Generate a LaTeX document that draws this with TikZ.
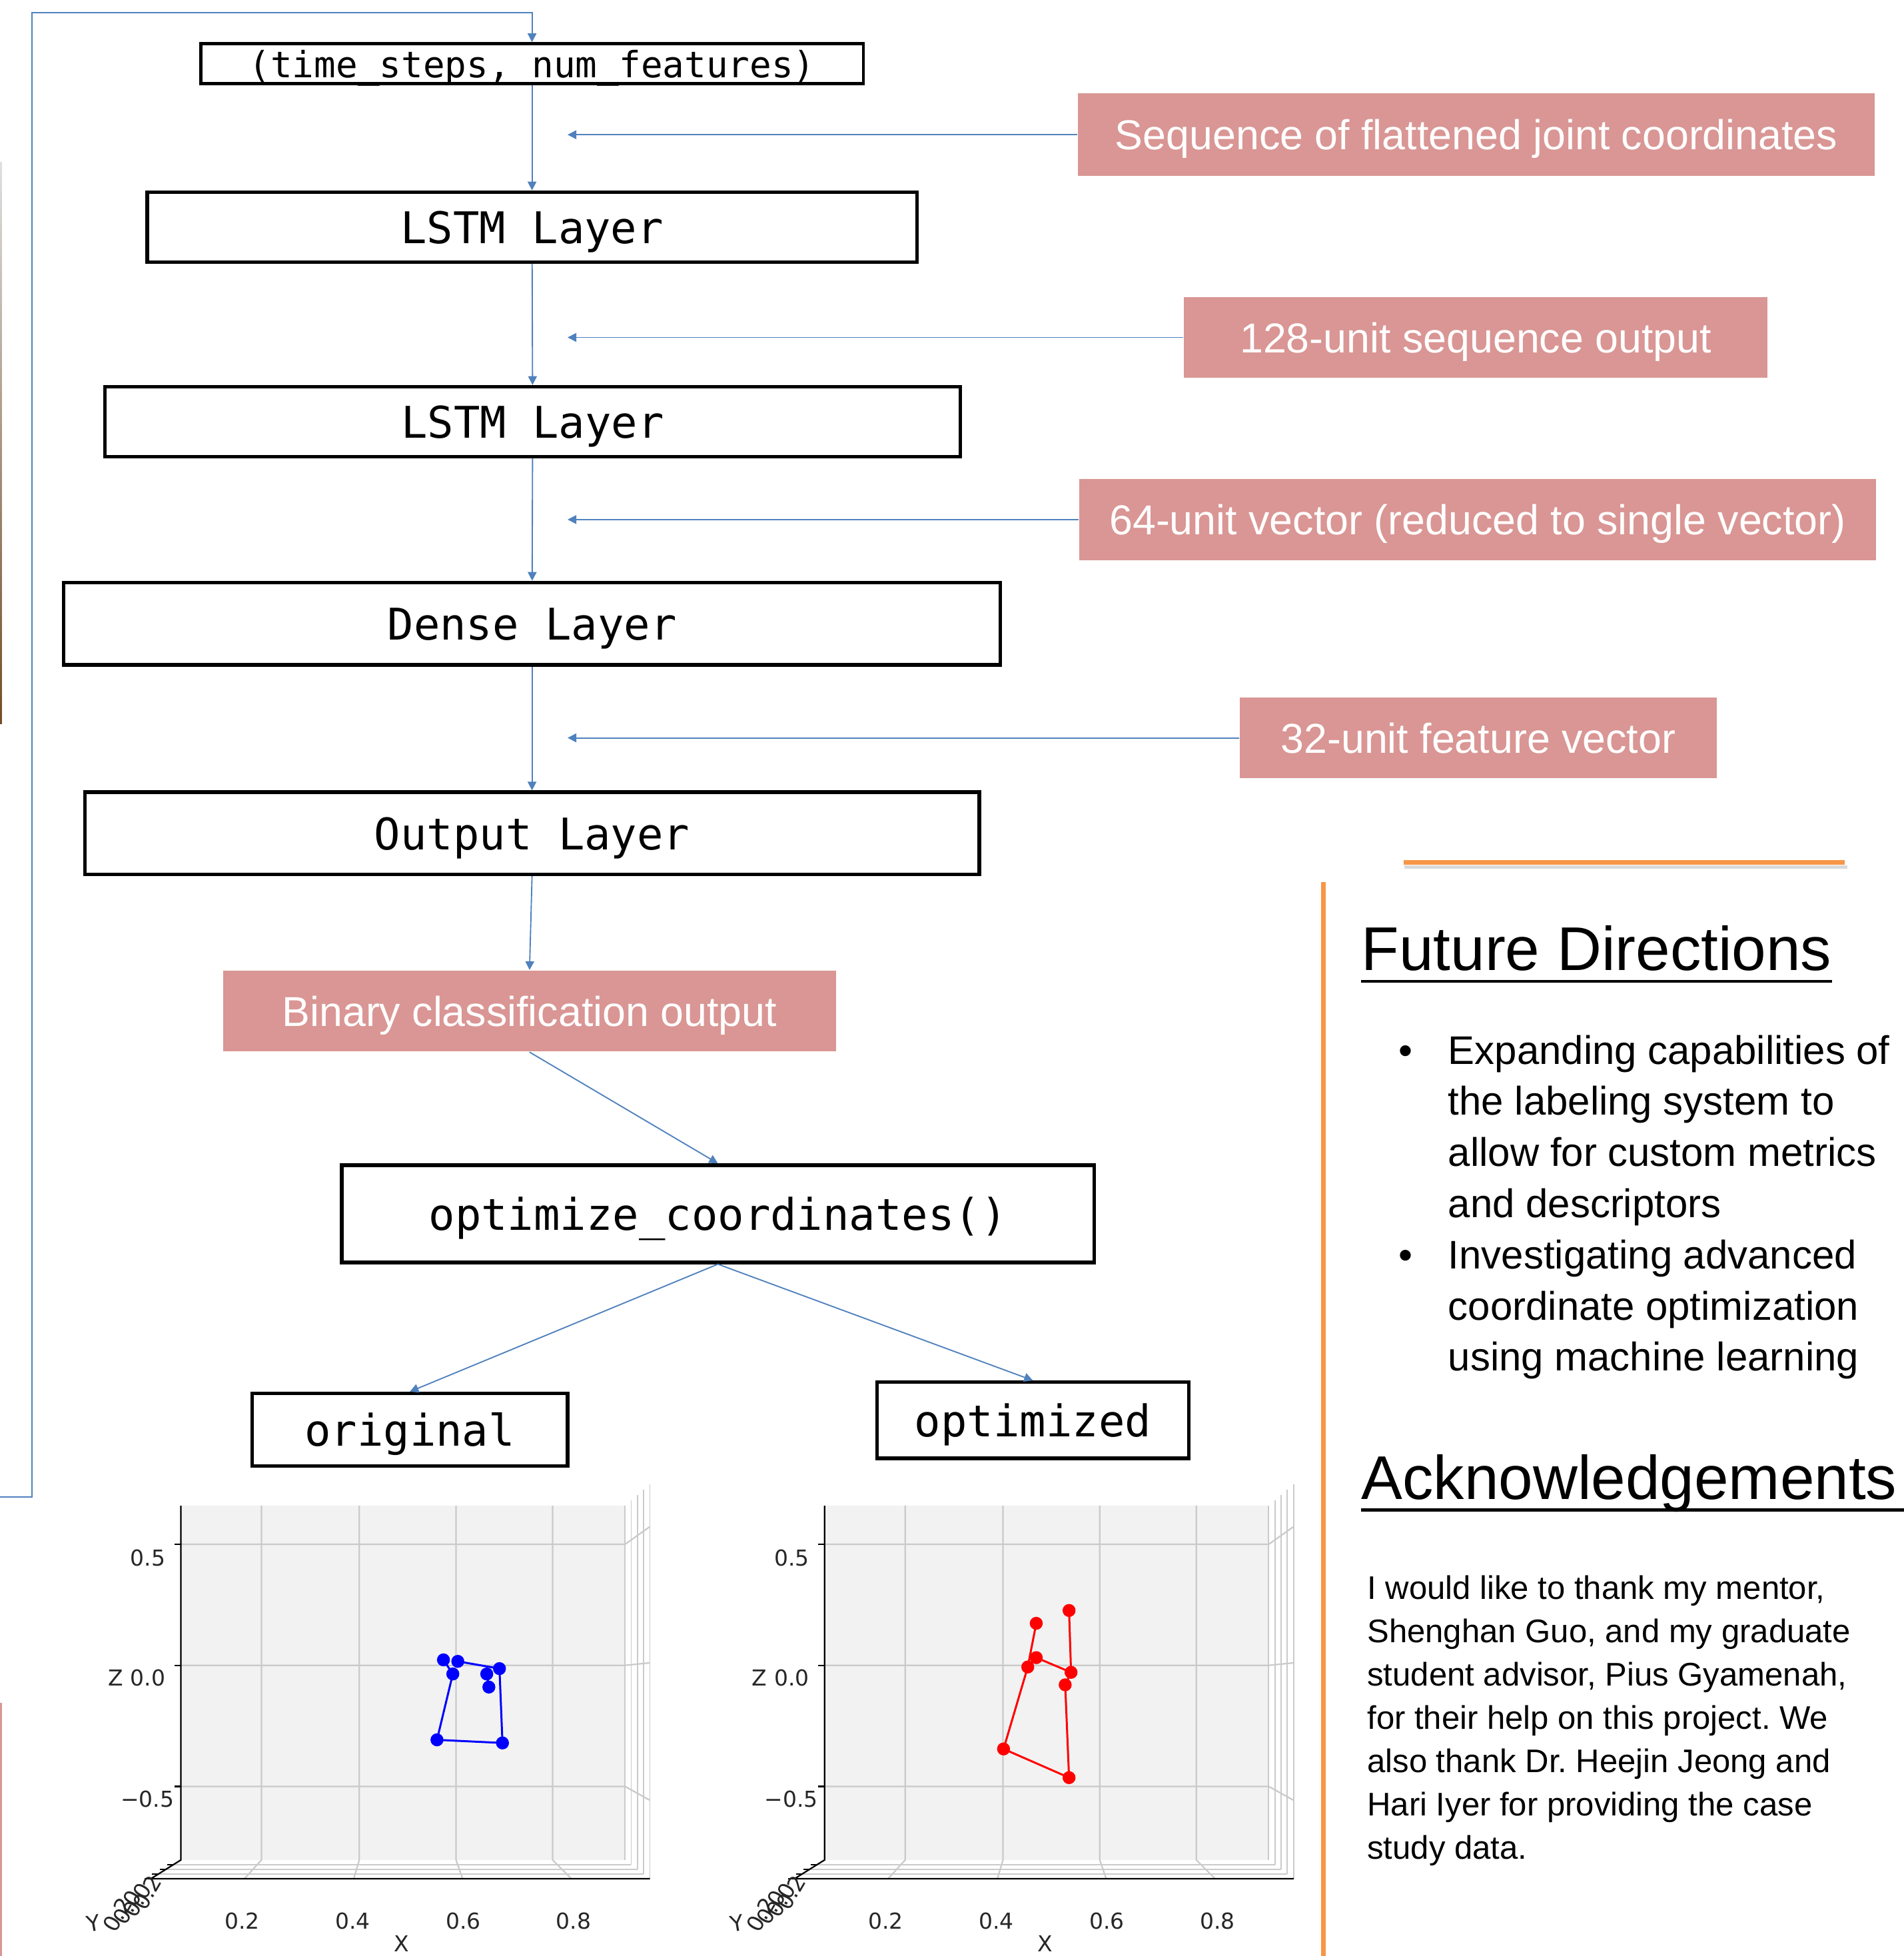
\documentclass[tikz,border=0pt]{standalone}
\usepackage{fontspec}
\setmainfont{Liberation Sans}
\setmonofont{DejaVu Sans Mono}
\newfontfamily\plotfont{DejaVu Sans}
\usetikzlibrary{arrows.meta}
\definecolor{flowblue}{HTML}{4F81BD}
\definecolor{notepink}{HTML}{D99694}
\definecolor{rulegold}{HTML}{F79646}
\definecolor{panegray}{HTML}{F2F2F2}
\definecolor{gridgray}{HTML}{CACACA}

\tikzset{
  layer/.style={draw, line width=1.4pt, inner sep=0pt, text depth=0pt, font=\ttfamily\fontsize{17.5}{20}\selectfont},
  note/.style={fill=notepink, text=white, inner sep=0pt, text depth=0pt, font=\fontsize{16.75}{20}\selectfont},
  flow/.style={flowblue, line width=0.5pt, -{Triangle[length=3.5pt,width=3.5pt]}},
  heading/.style={anchor=base west, inner sep=0pt, font=\fontsize{24.75}{30}\selectfont},
  itemtext/.style={anchor=base west, inner sep=0pt, font=\fontsize{16}{20}\selectfont},
  acktext/.style={anchor=base west, inner sep=0pt, font=\fontsize{13.1}{17}\selectfont},
  plotlbl/.style={inner sep=0pt, text=black!85, font=\plotfont\fontsize{8.8}{10}\selectfont},
  gridline/.style={gridgray, line width=0.6pt},
}

% axes of one 3d joint plot, #1 = name prefix
\newcommand{\jointaxes}[1]{%
  \fill[panegray] (145,1207) rectangle (501,1491);
  \foreach \gx/\bx in {209.6/196, 288/283.6, 365.6/370.8, 443/458}
    \draw[gridline] (\gx,1207) -- (\gx,1491) -- (\bx,1506);
  \foreach \gy/\ry in {1238/1224, 1335/1333, 1432/1443}
    \draw[gridline] (145,\gy) -- (501,\gy) -- (520.7,\ry);
  \foreach \k in {1,...,3}
    \draw[gridline, line width=0.5pt] ({145-6*\k},{1491+3.75*\k}) -- ({501+5*\k},{1491+3.75*\k});
  \foreach \k in {0,...,4}
    \draw[gridline, line width=0.5pt] ({501+5*\k},{1207-4.25*\k}) -- ({501+5*\k},{1491+3.75*\k});
  \draw[line width=0.6pt] (145,1207) -- (145,1491) -- (121,1506) -- (521,1506);
  \foreach \gy in {1238, 1335, 1432}
    \draw[line width=0.6pt] (140,\gy) -- (145,\gy);
  \foreach \k in {1,...,4}
    \draw[line width=0.6pt] ({145-6*\k},{1491+3.75*\k}) -- ++(-5,0);
  \node[plotlbl, anchor=east] (#1-zhi) at (133,1249) {0.5};
  \node[plotlbl, anchor=east] (#1-zmid) at (133,1345) {0.0};
  \node[plotlbl, anchor=east] (#1-zlo) at (140,1442) {−0.5};
  \node[plotlbl, anchor=east] (#1-zname) at (99,1345) {Z};
  \foreach \v [count=\i] in {0.2, 0.4, 0.6, 0.8}
    \node[plotlbl] (#1-x\i) at ({105.5+88.6*\i},1540) {\v};
  \node[plotlbl] (#1-xname) at (322,1558) {X};
  \node[plotlbl, rotate=10] (#1-yname) at (75,1542) {Y};
  \foreach \v [count=\i] in {0.2, 0.0, 0.0, 0.2}
    \node[plotlbl, rotate=60] (#1-y\i) at ({86+8*\i},{1541-6*\i}) {\v};
}

\begin{document}
\frenchspacing
\begin{tikzpicture}[x=0.5pt, y=-0.5pt]
  \useasboundingbox (0,0) rectangle (1526,1568);

  % cropped slivers at the left edge
  \shade[top color=gray!25, bottom color=brown!60!black] (0,130) rectangle (1.5,580);
  \fill[notepink] (0,1365) rectangle (1.5,1568);

  % network layers
  \node[layer, line width=1.2pt, minimum width=265.5pt, minimum height=16pt,
        font=\ttfamily\fontsize{14.5}{17}\selectfont] (inshape) at (426.5,51) {(time\_steps, num\_features)};
  \node[layer, minimum width=308.5pt, minimum height=28pt] (lstmA) at (426.5,182) {LSTM Layer};
  \node[layer, minimum width=343pt, minimum height=28pt] (lstmB) at (427,338) {LSTM Layer};
  \node[layer, minimum width=375.5pt, minimum height=33pt] (dense) at (426.5,500) {Dense Layer};
  \node[layer, minimum width=358.5pt, minimum height=33pt] (outlayer) at (426.5,668) {Output Layer};
  \node[note, minimum width=245.5pt, minimum height=32.5pt] (binary) at (424.5,810.5) {Binary classification output};
  \node[layer, minimum width=301.5pt, minimum height=39pt] (optim) at (575.5,973) {optimize\_coordinates()};
  \node[layer, minimum width=126.5pt, minimum height=29pt] (orig) at (328.5,1146) {original};
  \node[layer, minimum width=125pt, minimum height=30.5pt] (optd) at (828,1138.5) {optimized};

  % shape notes
  \node[note, minimum width=319.5pt, minimum height=33pt] (seqnote) at (1183.5,108) {Sequence of flattened joint coordinates};
  \node[note, minimum width=234pt, minimum height=32.5pt] (seqout) at (1183,270.5) {128-unit sequence output};
  \node[note, minimum width=319.5pt, minimum height=32.5pt] (vecout) at (1184.5,416.5) {64-unit vector (reduced to single vector)};
  \node[note, minimum width=191pt, minimum height=32.5pt] (featout) at (1185,591.5) {32-unit feature vector};

  \coordinate (tap) at (455,0);
  \coordinate (loopin) at (0,1200);
  \coordinate (loopup) at (25.5,10);

  \draw[flow] (loopin) -| (loopup) -- (loopup -| inshape.north) -- (inshape.north);
  \draw[flow] (inshape) -- (lstmA);
  \draw[flow] (lstmA) -- (lstmB);
  \draw[flow] (lstmB) -- (dense);
  \draw[flow] (dense) -- (outlayer);
  \draw[flow] (outlayer.south) -- (binary.north);
  \draw[flow] (binary.south) -- (optim.north);
  \draw[flow] (optim.south) -- (orig.north);
  \draw[flow] (optim.south) -- (optd.north);
  \draw[flow] (seqnote.west) -- (seqnote.west -| tap);
  \draw[flow] (seqout.west) -- (seqout.west -| tap);
  \draw[flow] (vecout.west) -- (vecout.west -| tap);
  \draw[flow] (featout.west) -- (featout.west -| tap);

  % joint plots
  \begin{scope}
    \jointaxes{lp}
  \end{scope}
  \begin{scope}[shift={(516,0)}]
    \jointaxes{rp}
  \end{scope}

  \coordinate (b1) at (355.5,1330.6);
  \coordinate (b2) at (367,1331.8);
  \coordinate (b3) at (363,1341.9);
  \coordinate (b4) at (400.4,1337.6);
  \coordinate (b5) at (390.2,1341.9);
  \coordinate (b6) at (391.9,1352.4);
  \coordinate (b7) at (350.3,1394.7);
  \coordinate (b8) at (402.8,1397.2);
  \draw[blue, line width=0.8pt] (b1) -- (b3) -- (b7) -- (b8) -- (b4) -- (b2);
  \draw[blue, line width=0.8pt] (b5) -- (b6);
  \foreach \j in {1,...,8}
    \fill[blue] (b\j) circle[radius=2.6pt];

  \coordinate (r1) at (830.7,1301.3);
  \coordinate (r2) at (857,1291);
  \coordinate (r3) at (830.7,1328.8);
  \coordinate (r4) at (823.9,1336.3);
  \coordinate (r5) at (858.6,1340.6);
  \coordinate (r6) at (853.9,1350.6);
  \coordinate (r7) at (804.5,1402);
  \coordinate (r8) at (857,1425);
  \draw[red, line width=0.8pt] (r1) -- (r4) -- (r7) -- (r8) -- (r6) -- (r5) -- (r2);
  \draw[red, line width=0.8pt] (r3) -- (r5);
  \foreach \j in {1,...,8}
    \fill[red] (r\j) circle[radius=2.6pt];

  % right column
  \draw[rulegold, line width=2pt] (1061,707) -- (1061,1570);
  \draw[black!15, line width=1.5pt] (1126,695) -- (1481,695);
  \draw[rulegold, line width=1.8pt] (1125,691.5) -- (1479,691.5);

  \node[heading] (futhead) at (1091,778) {Future Directions};
  \draw[line width=1.25pt] ([yshift=-4.35pt]futhead.base west) -- ([yshift=-4.35pt]futhead.base east);
  \node[itemtext] (fdb-1) at (1121,853) {•};
  \node[itemtext] (fdb-2) at (1121,1017) {•};
  \foreach \ln [count=\i] in {Expanding capabilities of, the labeling system to, allow for custom metrics,
      and descriptors, Investigating advanced, coordinate optimization, using machine learning}
    \node[itemtext] (fd-\i) at (1160.6,{812+41*\i}) {\ln};

  \node[heading] (ackhead) at (1091,1202) {Acknowledgements};
  \draw[line width=1.25pt] ([yshift=-4.25pt]ackhead.base west) -- ++(440,0);
  \foreach \ln [count=\i] in {{I would like to thank my mentor,}, {Shenghan Guo, and my graduate},
      {student advisor, Pius Gyamenah,}, {for their help on this project. We},
      {also thank Dr. Heejin Jeong and}, {Hari Iyer for providing the case}, {study data.}}
    \node[acktext] (ack-\i) at (1095.7,{1247.3+34.7*\i}) {\ln};
\end{tikzpicture}
\end{document}
